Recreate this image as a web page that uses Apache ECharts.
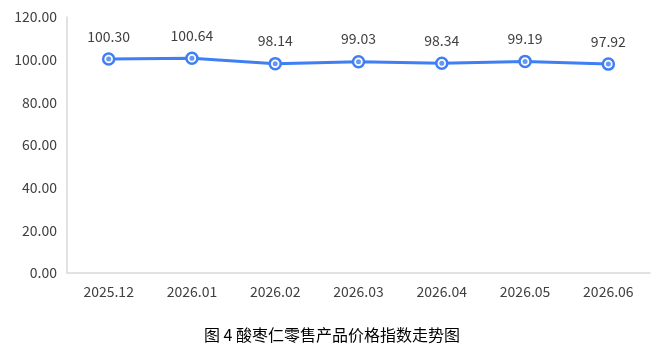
<!DOCTYPE html>
<html>
<head>
<meta charset="utf-8">
<script src="https://cdn.jsdelivr.net/npm/echarts@6/dist/echarts.min.js"></script>
<style>
  html, body { margin: 0; padding: 0; background: #fff; }
  #main { width: 664px; height: 353px; }
</style>
</head>
<body>
<div id="main"></div>
<script>
// 月份
const months = ['2025.12', '2026.01', '2026.02', '2026.03', '2026.04', '2026.05', '2026.06'];
// 价格指数
const priceIndex = [100.30, 100.64, 98.14, 99.03, 98.34, 99.19, 97.92];
// y轴刻度
const yMin = 0, yMax = 120, yStep = 20;

const blue = '#3f7ef3';
const font = '"Noto Sans CJK SC", "Noto Sans", sans-serif';

const chart = echarts.init(document.getElementById('main'));
chart.setOption({
  animation: false,
  textStyle: { fontFamily: font },
  title: {
    text: '图 4 酸枣仁零售产品价格指数走势图',
    left: 'center',
    top: 322,
    textStyle: { fontSize: 16, fontWeight: 'normal', color: '#000', fontFamily: font }
  },
  grid: { left: 67, right: 14, top: 17, bottom: 80 },
  xAxis: {
    type: 'category',
    data: months,
    axisLine: { lineStyle: { color: '#d9d9d9', width: 1.5 } },
    axisTick: { show: false },
    axisLabel: { color: '#404040', fontSize: 14, margin: 12 }
  },
  yAxis: {
    type: 'value',
    min: yMin,
    max: yMax,
    interval: yStep,
    axisLine: { show: true, lineStyle: { color: '#d9d9d9', width: 1.5 } },
    axisTick: { show: false },
    splitLine: { show: false },
    axisLabel: {
      color: '#404040', fontSize: 14, margin: 10,
      formatter: v => v.toFixed(2)
    }
  },
  series: [
    {
      type: 'line',
      data: priceIndex,
      symbol: 'circle',
      symbolSize: 11,
      lineStyle: { color: blue, width: 3 },
      itemStyle: { color: '#fff', borderColor: blue, borderWidth: 2.5 },
      label: {
        show: true,
        position: 'top',
        distance: 9,
        color: '#404040',
        fontSize: 14,
        formatter: p => p.value.toFixed(2)
      },
      z: 2
    },
    {
      type: 'scatter',
      data: priceIndex,
      symbol: 'circle',
      symbolSize: 5,
      itemStyle: { color: blue },
      silent: true,
      z: 3
    }
  ]
});
</script>
</body>
</html>
